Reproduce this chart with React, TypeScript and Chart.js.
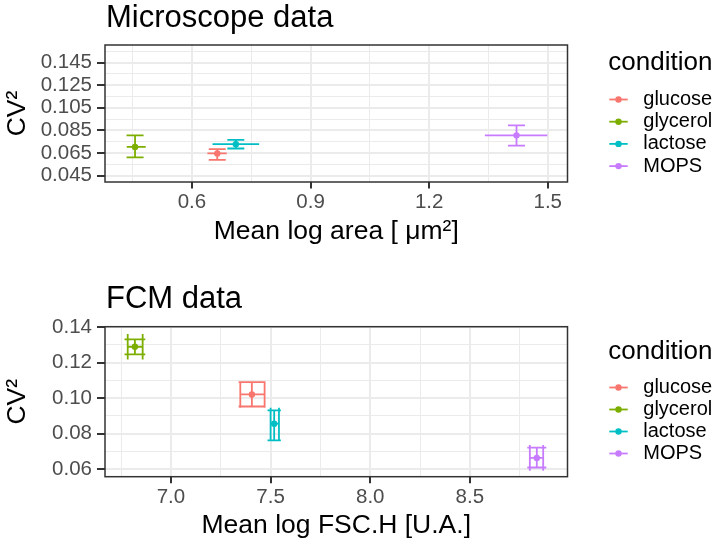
import React, { useEffect, useRef } from "react";
import { Chart, registerables } from "chart.js";

Chart.register(...registerables);

const FONT = "'Liberation Sans', Arial, Helvetica, sans-serif";
const CANVAS_W = 716;

const conditions = ["glucose", "glycerol", "lactose", "MOPS"];
const conditionColors = ["#F8766D", "#7CAE00", "#00BFC4", "#C77CFF"];

// ---- Microscope data ----
const micMeanLogArea = [0.664, 0.456, 0.711, 1.421];
const micAreaLow = [0.639, 0.435, 0.652, 1.341];
const micAreaHigh = [0.688, 0.483, 0.77, 1.499];
const micCV2 = [0.0647, 0.0705, 0.0729, 0.0807];
const micCV2Low = [0.0591, 0.0612, 0.0691, 0.0717];
const micCV2High = [0.0685, 0.0807, 0.0767, 0.0895];
const micErrorbarWidth = [0.043, 0.043, 0.043, 0.043];
const micErrorbarHeight = [0, 0, 0, 0];
const micXBreaks = [0.6, 0.9, 1.2, 1.5];
const micXLabels = ["0.6", "0.9", "1.2", "1.5"];
const micXMinor = [0.45, 0.75, 1.05, 1.35];
const micYBreaks = [0.045, 0.065, 0.085, 0.105, 0.125, 0.145];
const micYLabels = ["0.045", "0.065", "0.085", "0.105", "0.125", "0.145"];
const micYMinor = [0.055, 0.075, 0.095, 0.115, 0.135, 0.155];
const micXLimits = [0.38, 1.55];
const micYLimits = [0.0395, 0.1605];

// ---- FCM data ----
const fcmMeanLogFSC = [7.406, 6.819, 7.518, 8.836];
const fcmFSCLow = [7.348, 6.783, 7.5, 8.801];
const fcmFSCHigh = [7.47, 6.858, 7.542, 8.868];
const fcmCV2 = [0.1021, 0.129, 0.0856, 0.0663];
const fcmCV2Low = [0.0953, 0.1247, 0.0762, 0.0609];
const fcmCV2High = [0.109, 0.1331, 0.0931, 0.0721];
const fcmErrorbarWidth = [0.133, 0.104, 0.067, 0.095];
const fcmErrorbarHeight = [0.015, 0.0144, 0.018, 0.0146];
const fcmXBreaks = [7.0, 7.5, 8.0, 8.5];
const fcmXLabels = ["7.0", "7.5", "8.0", "8.5"];
const fcmXMinor = [6.75, 7.25, 7.75, 8.25, 8.75];
const fcmYBreaks = [0.06, 0.08, 0.1, 0.12, 0.14];
const fcmYLabels = ["0.06", "0.08", "0.10", "0.12", "0.14"];
const fcmYMinor = [0.07, 0.09, 0.11, 0.13];
const fcmXLimits = [6.669, 8.99];
const fcmYLimits = [0.0557, 0.1403];

type Series = {
  x: number[]; xLow: number[]; xHigh: number[];
  y: number[]; yLow: number[]; yHigh: number[];
  capW: number[]; capH: number[];
};
type Axis = { breaks: number[]; labels: string[]; minor: number[]; lim: number[]; title: string };
type Layout = {
  top: number; height: number; areaTop: number; areaBottom: number;
  titleBaseline: number; xTitleCenter: number; legendTitleY: number; legendY0: number; legendStep: number;
};

const AREA_LEFT = 105;
const AREA_RIGHT = 567.5;
const TICK_FONT = 20.5;
const AXIS_TITLE_FONT = 26.5;
const PLOT_TITLE_FONT = 31;
const LEGEND_TITLE_FONT = 26;
const LEGEND_TEXT_FONT = 20;

const near = (a: number, b: number) => Math.abs(a - b) < 1e-9;
const isMajor = (arr: number[], v: number) => arr.some((b) => near(b, v));

function makeScale(ax: Axis, horizontal: boolean, layout: Layout) {
  const tickLength = horizontal ? 6.5 : 8;
  const lh = AXIS_TITLE_FONT * 1.2;
  return {
    type: "linear" as const,
    position: horizontal ? "bottom" : "left",
    min: ax.lim[0],
    max: ax.lim[1],
    bounds: "data" as const,
    afterBuildTicks: (scale: any) => {
      scale.ticks = [...ax.breaks, ...ax.minor].sort((a, b) => a - b).map((v) => ({ value: v }));
    },
    afterFit: (scale: any) => {
      if (horizontal) scale.height = layout.height - layout.areaBottom;
      else scale.width = AREA_LEFT;
    },
    ticks: {
      autoSkip: false,
      maxRotation: 0,
      minRotation: 0,
      padding: horizontal ? 2 : 5,
      color: "#4D4D4D",
      font: { size: TICK_FONT, family: FONT },
      callback: (v: any) => {
        const i = ax.breaks.findIndex((b) => near(b, Number(v)));
        return i >= 0 ? ax.labels[i] : "";
      },
    },
    grid: {
      drawTicks: true,
      tickLength,
      tickWidth: 2,
      color: "#EBEBEB",
      lineWidth: (ctx: any) => (ctx.tick && isMajor(ax.breaks, ctx.tick.value) ? 2 : 1),
      tickColor: (ctx: any) => (ctx.tick && isMajor(ax.breaks, ctx.tick.value) ? "#333333" : "rgba(0,0,0,0)"),
    },
    border: { display: false },
    title: {
      display: true,
      text: ax.title,
      color: "#000000",
      font: { size: AXIS_TITLE_FONT, family: FONT },
      padding: horizontal
        ? { top: 0, bottom: Math.max(0, layout.height - layout.xTitleCenter - lh / 2) }
        : { top: Math.max(0, 18 - lh / 2), bottom: 0 },
    },
  };
}

function Panel(props: { title: string; series: Series; xAxis: Axis; yAxis: Axis; layout: Layout }) {
  const ref = useRef<HTMLCanvasElement>(null);
  useEffect(() => {
    const { series, layout, xAxis, yAxis, title } = props;
    const decorations = {
      id: "decorations",
      beforeDatasetsDraw(chart: any) {
        const { ctx } = chart;
        const xs = chart.scales.x;
        const ys = chart.scales.y;
        ctx.save();
        ctx.lineWidth = 1.8;
        for (let i = 0; i < conditions.length; i++) {
          ctx.strokeStyle = conditionColors[i];
          const px = xs.getPixelForValue(series.x[i]);
          const py = ys.getPixelForValue(series.y[i]);
          const y0 = ys.getPixelForValue(series.yLow[i]);
          const y1 = ys.getPixelForValue(series.yHigh[i]);
          const cL = xs.getPixelForValue(series.x[i] - series.capW[i] / 2);
          const cR = xs.getPixelForValue(series.x[i] + series.capW[i] / 2);
          const x0 = xs.getPixelForValue(series.xLow[i]);
          const x1 = xs.getPixelForValue(series.xHigh[i]);
          ctx.beginPath();
          ctx.moveTo(px, y0); ctx.lineTo(px, y1);
          ctx.moveTo(cL, y0); ctx.lineTo(cR, y0);
          ctx.moveTo(cL, y1); ctx.lineTo(cR, y1);
          ctx.moveTo(x0, py); ctx.lineTo(x1, py);
          if (series.capH[i] > 0) {
            const cT = ys.getPixelForValue(series.y[i] + series.capH[i] / 2);
            const cB = ys.getPixelForValue(series.y[i] - series.capH[i] / 2);
            ctx.moveTo(x0, cT); ctx.lineTo(x0, cB);
            ctx.moveTo(x1, cT); ctx.lineTo(x1, cB);
          }
          ctx.stroke();
        }
        ctx.restore();
      },
      afterDraw(chart: any) {
        const { ctx, chartArea } = chart;
        ctx.save();
        // panel border
        ctx.strokeStyle = "#333333";
        ctx.lineWidth = 1.5;
        ctx.strokeRect(chartArea.left, chartArea.top, chartArea.right - chartArea.left, chartArea.bottom - chartArea.top);
        // plot title
        ctx.fillStyle = "#000000";
        ctx.font = `${PLOT_TITLE_FONT}px ${FONT}`;
        ctx.textAlign = "left";
        ctx.textBaseline = "alphabetic";
        ctx.fillText(title, 106, layout.titleBaseline);
        // legend
        ctx.font = `${LEGEND_TITLE_FONT}px ${FONT}`;
        ctx.textBaseline = "middle";
        ctx.fillText("condition", 608.3, layout.legendTitleY);
        ctx.font = `${LEGEND_TEXT_FONT}px ${FONT}`;
        for (let i = 0; i < conditions.length; i++) {
          const y = layout.legendY0 + i * layout.legendStep;
          ctx.strokeStyle = conditionColors[i];
          ctx.fillStyle = conditionColors[i];
          ctx.lineWidth = 1.8;
          ctx.beginPath();
          ctx.moveTo(609.3, y);
          ctx.lineTo(627.7, y);
          ctx.stroke();
          ctx.beginPath();
          ctx.arc(618.5, y, 3.2, 0, Math.PI * 2);
          ctx.fill();
          ctx.fillStyle = "#000000";
          ctx.fillText(conditions[i], 643.3, y);
        }
        ctx.restore();
      },
    };
    const chart = new Chart(ref.current as HTMLCanvasElement, {
      type: "scatter",
      data: {
        datasets: conditions.map((c, i) => ({
          label: c,
          data: [{ x: series.x[i], y: series.y[i] }],
          backgroundColor: conditionColors[i],
          borderColor: conditionColors[i],
          pointRadius: 3.2,
          pointBorderWidth: 0,
        })),
      },
      options: {
        responsive: false,
        animation: false,
        events: [],
        layout: {
          padding: { left: 0, top: layout.areaTop, right: CANVAS_W - AREA_RIGHT, bottom: 0 },
        },
        plugins: { legend: { display: false }, tooltip: { enabled: false }, title: { display: false } },
        scales: {
          x: makeScale(xAxis, true, layout) as any,
          y: makeScale(yAxis, false, layout) as any,
        },
      },
      plugins: [decorations],
    });
    return () => chart.destroy();
  }, []);
  return (
    <div style={{ position: "absolute", left: 0, top: props.layout.top, width: CANVAS_W, height: props.layout.height }}>
      <canvas ref={ref} width={CANVAS_W} height={props.layout.height} />
    </div>
  );
}

export default function App() {
  const micSeries: Series = {
    x: micMeanLogArea, xLow: micAreaLow, xHigh: micAreaHigh,
    y: micCV2, yLow: micCV2Low, yHigh: micCV2High,
    capW: micErrorbarWidth, capH: micErrorbarHeight,
  };
  const fcmSeries: Series = {
    x: fcmMeanLogFSC, xLow: fcmFSCLow, xHigh: fcmFSCHigh,
    y: fcmCV2, yLow: fcmCV2Low, yHigh: fcmCV2High,
    capW: fcmErrorbarWidth, capH: fcmErrorbarHeight,
  };
  const micLayout: Layout = {
    top: 0, height: 262, areaTop: 45, areaBottom: 182,
    titleBaseline: 26.9, xTitleCenter: 231.5, legendTitleY: 63, legendY0: 99.5, legendStep: 22.2,
  };
  const fcmLayout: Layout = {
    top: 262, height: 280, areaTop: 64.7, areaBottom: 214.7,
    titleBaseline: 45.8, xTitleCenter: 264.5, legendTitleY: 89.7, legendY0: 125.5, legendStep: 22,
  };
  return (
    <div style={{ position: "absolute", left: 0, top: 0, width: 716, height: 542, background: "#fff", overflow: "hidden" }}>
      <Panel
        title="Microscope data"
        series={micSeries}
        xAxis={{ breaks: micXBreaks, labels: micXLabels, minor: micXMinor, lim: micXLimits, title: "Mean log area [ μm²]" }}
        yAxis={{ breaks: micYBreaks, labels: micYLabels, minor: micYMinor, lim: micYLimits, title: "CV²" }}
        layout={micLayout}
      />
      <Panel
        title="FCM data"
        series={fcmSeries}
        xAxis={{ breaks: fcmXBreaks, labels: fcmXLabels, minor: fcmXMinor, lim: fcmXLimits, title: "Mean log FSC.H [U.A.]" }}
        yAxis={{ breaks: fcmYBreaks, labels: fcmYLabels, minor: fcmYMinor, lim: fcmYLimits, title: "CV²" }}
        layout={fcmLayout}
      />
    </div>
  );
}
